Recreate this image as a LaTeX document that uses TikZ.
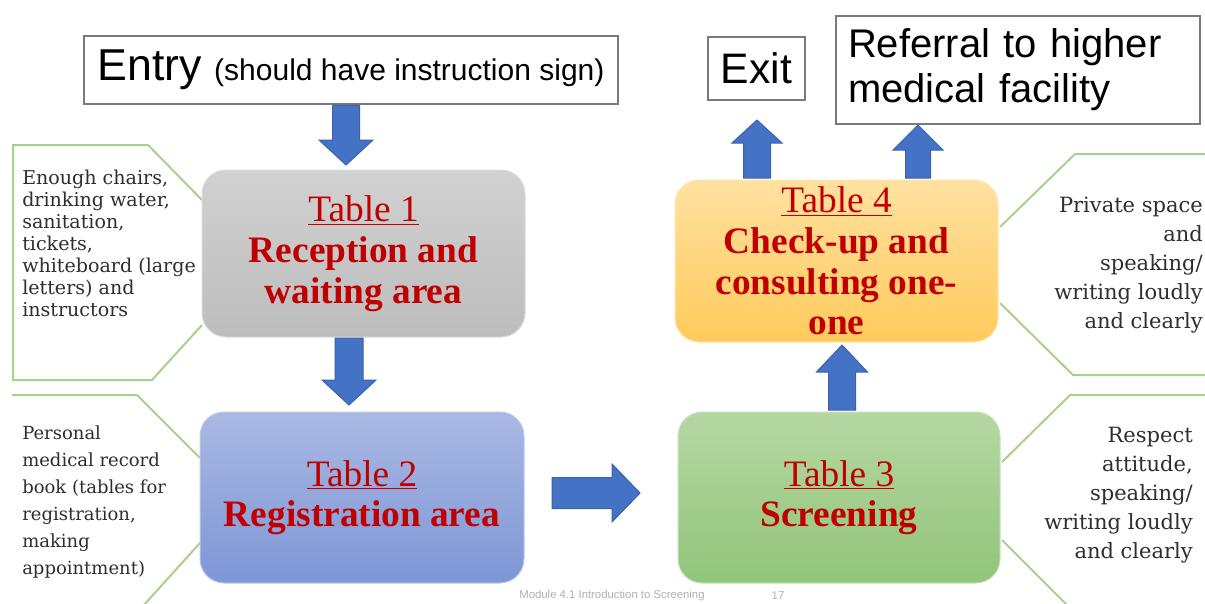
\documentclass[tikz,border=0pt]{standalone}
\usepackage{fontspec}
\setmainfont{Liberation Serif}
\newfontfamily\sansf{Liberation Sans}
\newfontfamily\callf{DejaVu Serif}
\definecolor{arrblue}{HTML}{4472C4}
\definecolor{arredge}{HTML}{3A62AD}
\definecolor{calloutln}{HTML}{A9D18E}
\definecolor{tred}{HTML}{C00000}
\definecolor{ctext}{HTML}{2E2E2E}
\definecolor{boxedge}{HTML}{7A7A7A}
\definecolor{footgray}{HTML}{B0B0B0}
\tikzset{
  signbox/.style={draw=boxedge, line width=1.8pt, fill=white, inner sep=0pt},
  signtext/.style={font=\sansf\fontsize{32}{34}\selectfont, text=black},
  tablebox/.style={rounded corners=18pt, line width=0.75pt, inner sep=0pt,
    text=tred, align=center, font=\fontsize{28}{30.5}\selectfont},
  callline/.style={draw=calloutln, line width=1.5pt},
  calltext/.style={text=ctext, inner sep=0pt},
  barrow/.style={fill=arrblue, draw=arredge, line width=0.75pt, line join=miter},
}
% vertical block arrow: cx, base, headbase, tip, half shaft, half head
\newcommand\varr[6]{\draw[barrow] (#1-#5,#2) -- (#1+#5,#2) -- (#1+#5,#3) -- (#1+#6,#3) -- (#1,#4) -- (#1-#6,#3) -- (#1-#5,#3) -- cycle;}
% horizontal block arrow: cy, base, headbase, tip, half shaft, half head
\newcommand\harr[6]{\draw[barrow] (#2,#1-#5) -- (#2,#1+#5) -- (#3,#1+#5) -- (#3,#1+#6) -- (#4,#1) -- (#3,#1-#6) -- (#3,#1-#5) -- cycle;}
\begin{document}
\begin{tikzpicture}[x=0.75pt,y=-0.75pt]
\useasboundingbox (0,0) rectangle (1205,603);
\clip (0,0) rectangle (1205,603);
\fill[white] (0,0) rectangle (1205,603);

% callout outlines
\draw[callline] (202,200) -- (148,145) -- (13,145) -- (13,380) -- (152,380) -- (202,325);
\draw[callline] (200,458) -- (137,395) -- (12,395);
\draw[callline] (200,543) -- (143,606);
\draw[callline] (1000,227) -- (1075,154) -- (1210,154);
\draw[callline] (1000,303) -- (1073,375) -- (1210,375);
\draw[callline] (1002,462) -- (1070,395) -- (1210,395);
\draw[callline] (1002,540) -- (1068,606);

% top signs
\node[signbox, minimum width=400.5pt, minimum height=51pt] (entry) at (351,70)
  {\sansf\fontsize{33.5}{36}\selectfont Entry \fontsize{22.5}{26}\selectfont(should have instruction sign)};
\node[signbox, signtext, minimum width=72.75pt, minimum height=47.25pt] (exit) at (756.5,68.5) {Exit};
\node[signbox, signtext, font=\sansf\fontsize{30}{33.75}\selectfont, minimum width=273pt, minimum height=81pt,
  text width=255pt, align=left] (referral) at (1018,70) {Referral to higher\\medical facility};

% tables
\node[tablebox, top color=white!82!black, bottom color=white!74!black, draw=white!86!black,
  minimum width=242.25pt, minimum height=125.25pt] (t1) at (363.5,253.5)
  {\underline{Table 1}\\\textbf{Reception and}\\\textbf{waiting area}};
\node[tablebox, top color={rgb,255:red,169;green,185;blue,227}, bottom color={rgb,255:red,126;green,150;blue,213},
  draw={rgb,255:red,190;green,202;blue,235},
  minimum width=243pt, minimum height=128.25pt] (t2) at (362,497.5)
  {\underline{Table 2}\\\textbf{Registration area}};
\node[tablebox, top color={rgb,255:red,181;green,216;blue,163}, bottom color={rgb,255:red,146;green,196;blue,122},
  draw={rgb,255:red,200;green,226;blue,188},
  minimum width=241.5pt, minimum height=128.25pt] (t3) at (839,497.5)
  {\underline{Table 3}\\\textbf{Screening}};
\node[tablebox, top color={rgb,255:red,255;green,225;blue,160}, bottom color={rgb,255:red,255;green,202;blue,92},
  draw={rgb,255:red,255;green,232;blue,180},
  minimum width=242.25pt, minimum height=121.5pt] (t4) at (836.5,261)
  {\underline{Table 4}\\\textbf{Check-up and}\\\textbf{consulting one-}\\\textbf{one}};

% block arrows
\varr{346}{105}{140}{165}{13.5}{27}
\varr{349}{338}{380}{405}{14}{27}
\harr{493}{552}{612}{640}{15.5}{29}
\varr{842}{410}{372}{345}{13.5}{25.5}
\varr{757}{178}{143}{120}{13.5}{25}
\varr{918}{178}{150}{125}{12.5}{25}

% callout texts
\node[calltext, anchor=north west, align=left, font=\callf\fontsize{14.3}{16.5}\selectfont] (c1) at (22,170)
  {Enough chairs,\\drinking water,\\sanitation,\\tickets,\\whiteboard (large\\letters) and\\instructors};
\node[calltext, anchor=north west, align=left, font=\callf\fontsize{13.5}{20.25}\selectfont] (c2) at (22,426)
  {Personal\\medical record\\book (tables for\\registration,\\making\\appointment)};
\node[calltext, anchor=north east, align=right, font=\callf\fontsize{15.75}{21.75}\selectfont] (c4) at (1203,197)
  {Private space\\and\\speaking/\\writing loudly\\and clearly};
\node[calltext, anchor=north east, align=right, font=\callf\fontsize{15.75}{21.75}\selectfont] (c3) at (1193,427)
  {Respect\\attitude,\\speaking/\\writing loudly\\and clearly};

% footer
\node[text=footgray, font=\sansf\fontsize{8.5}{10}\selectfont, inner sep=0pt] (foot) at (612,596) {Module 4.1 Introduction to Screening};
\node[text=footgray, font=\sansf\fontsize{8.5}{10}\selectfont, inner sep=0pt] (page) at (778,596) {17};
\end{tikzpicture}
\end{document}
